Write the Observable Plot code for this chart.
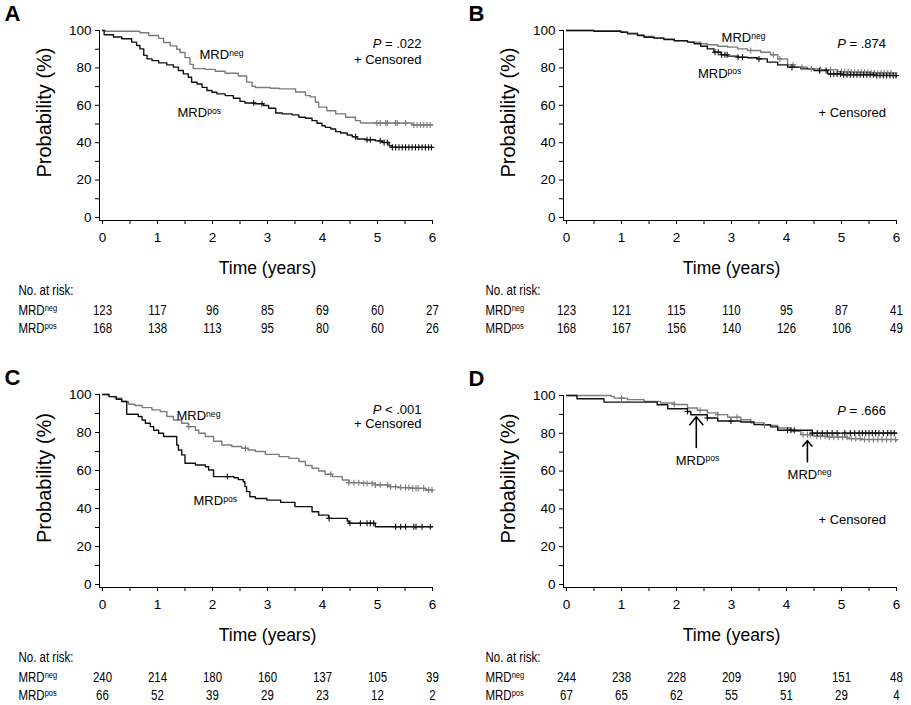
<!DOCTYPE html>
<html>
<head>
<meta charset="utf-8">
<script src="https://cdn.jsdelivr.net/npm/d3@7"></script>
<script src="https://cdn.jsdelivr.net/npm/@observablehq/plot@0.6"></script>
<style>
  body { margin: 0; background: #fff; }
  #fig { position: relative; width: 911px; height: 705px; background: #fff; }
  .panel { position: absolute; }
  .panel svg { overflow: visible; }
</style>
</head>
<body>
<div id="fig"></div>
<script>
// ---------- axis ticks ----------
const xTicks = [0, 0.5, 1, 1.5, 2, 2.5, 3, 3.5, 4, 4.5, 5, 5.5, 6];
const xLabels = [0, 1, 2, 3, 4, 5, 6];
const yTicks = [0, 10, 20, 30, 40, 50, 60, 70, 80, 90, 100];
const yLabels = [0, 20, 40, 60, 80, 100];
const riskTimes = [0, 1, 2, 3, 4, 5, 6];

// ---------- Panel A ----------
const aNegT = [0, 0.05, 0.68, 0.84, 1.02, 1.11, 1.23, 1.35, 1.41, 1.50, 1.59, 1.65, 1.87, 2.05, 2.23, 2.47, 2.62, 2.72, 2.78, 3.05, 3.21, 3.51, 3.69, 3.78, 3.87, 3.93, 4.08, 4.24, 4.42, 4.60, 4.69, 5.63, 6.0];
const aNegS = [100, 99.6, 98.8, 97.3, 95.8, 93.6, 91.8, 90, 88.2, 85.5, 81.9, 79.6, 79.2, 78.2, 77.1, 75.7, 72.4, 70.2, 69.5, 69.1, 68.8, 67.1, 65.2, 64.5, 61.6, 59, 57.1, 55.4, 53.6, 51.8, 50.5, 49.5, 49.5];
const aNegC = [4.99, 5.05, 5.15, 5.18, 5.33, 5.36, 5.51, 5.66, 5.72, 5.78, 5.84, 5.90, 5.96];
const aPosT = [0, 0.03, 0.2, 0.35, 0.53, 0.62, 0.68, 0.75, 0.81, 0.90, 1.02, 1.17, 1.29, 1.38, 1.47, 1.56, 1.62, 1.72, 1.81, 1.90, 1.99, 2.08, 2.23, 2.38, 2.50, 2.59, 2.78, 2.93, 3.02, 3.15, 3.27, 3.45, 3.57, 3.69, 3.81, 3.90, 3.99, 4.05, 4.15, 4.24, 4.33, 4.45, 4.54, 4.63, 4.78, 4.96, 5.09, 5.21, 5.27, 6.0];
const aPosS = [100, 97.7, 96.5, 95.6, 93.8, 92, 90.2, 86.7, 84.8, 83.9, 82.7, 81.6, 80.4, 78.6, 76.8, 75, 72.3, 71.4, 69.6, 67.9, 67, 66.1, 65.2, 63.8, 62.1, 61.2, 60.8, 59.9, 58.4, 55.9, 55.4, 54.9, 53.6, 53.1, 51.8, 50.4, 49.1, 48.2, 47.3, 45.9, 45.2, 44.1, 43.2, 42, 41.6, 41, 40.1, 38.4, 37.5, 37.5];
const aPosC = [2.75, 2.90, 4.60, 4.81, 4.87, 5.05, 5.12, 5.18, 5.27, 5.33, 5.39, 5.45, 5.51, 5.57, 5.63, 5.69, 5.75, 5.81, 5.87, 5.93, 5.98];
const aNegRisk = [123, 117, 96, 85, 69, 60, 27];
const aPosRisk = [168, 138, 113, 95, 80, 60, 26];

// ---------- Panel B ----------
const bNegT = [0, 0.50, 0.99, 1.11, 1.29, 1.41, 1.59, 1.77, 1.96, 2.20, 2.44, 2.56, 2.75, 2.93, 3.11, 3.29, 3.53, 3.71, 3.84, 4.02, 4.14, 4.38, 4.62, 4.93, 5.17, 5.53, 6.0];
const bNegS = [100, 99.7, 99.2, 98.5, 97.6, 96.8, 96, 95.3, 94.6, 93.8, 92.9, 92.4, 91.6, 91.1, 90.2, 89.3, 88.4, 87, 84.8, 81.6, 80.4, 79.5, 79.1, 78, 77.7, 77.3, 76.8];
const bNegC = [3.35, 3.76, 3.88, 4.12, 4.28, 4.45, 4.62, 4.80, 5.00, 5.06, 5.12, 5.18, 5.24, 5.30, 5.36, 5.42, 5.48, 5.54, 5.60, 5.66, 5.72, 5.78, 5.84, 5.90];
const bPosT = [0, 0.50, 0.99, 1.11, 1.29, 1.41, 1.59, 1.77, 1.96, 2.20, 2.32, 2.44, 2.56, 2.68, 2.81, 2.93, 3.11, 3.29, 3.47, 3.65, 3.84, 4.02, 4.26, 4.50, 4.75, 4.99, 5.59, 6.0];
const bPosS = [100, 99.6, 99.1, 98.2, 97.3, 96.4, 95.9, 95.2, 94.5, 93.8, 92.9, 91.6, 90.2, 88.4, 87, 86.3, 85.7, 85.4, 84.8, 83.1, 81.6, 80.4, 79.5, 78.6, 76.8, 76.3, 75.9, 75.4];
const bPosC = [2.70, 2.76, 2.82, 2.88, 2.92, 3.12, 3.20, 3.50, 4.10, 4.60, 4.72, 4.80, 4.86, 4.92, 4.98, 5.04, 5.10, 5.16, 5.22, 5.28, 5.34, 5.40, 5.46, 5.52, 5.58, 5.64, 5.70, 5.76, 5.82, 5.88, 5.94, 5.99];
const bNegRisk = [123, 121, 115, 110, 95, 87, 41];
const bPosRisk = [168, 167, 156, 140, 126, 106, 49];

// ---------- Panel C ----------
const cNegT = [0, 0.11, 0.23, 0.35, 0.47, 0.59, 0.72, 0.90, 1.05, 1.17, 1.29, 1.44, 1.56, 1.69, 1.75, 1.87, 2.02, 2.17, 2.35, 2.53, 2.65, 2.78, 2.96, 3.21, 3.39, 3.57, 3.69, 3.81, 3.93, 4.05, 4.18, 4.36, 4.48, 4.72, 4.96, 5.21, 5.39, 5.63, 5.87, 6.0];
const cNegS = [100, 98.9, 98, 96.3, 94.9, 94.2, 93.1, 91.9, 91, 88.4, 86.6, 84.9, 83.1, 81.2, 79.6, 77.9, 75.4, 73.4, 72.6, 71.7, 70.8, 70, 68.5, 67.3, 66.4, 64.7, 62.6, 61.2, 59.7, 58, 56.8, 55, 53.6, 53.2, 52.4, 51.5, 51, 50.6, 49.7, 49.2];
const cNegC = [1.57, 2.60, 4.15, 4.48, 4.57, 4.66, 4.75, 4.81, 4.90, 4.96, 5.05, 5.18, 5.24, 5.33, 5.42, 5.51, 5.57, 5.64, 5.70, 5.74, 5.84, 5.93, 5.99];
const cPosT = [0, 0.12, 0.25, 0.35, 0.44, 0.65, 0.72, 0.78, 0.87, 0.93, 1.02, 1.11, 1.35, 1.38, 1.44, 1.50, 1.69, 1.87, 1.93, 2.02, 2.39, 2.47, 2.56, 2.59, 2.62, 2.68, 2.78, 2.99, 3.24, 3.50, 3.81, 3.93, 4.11, 4.45, 4.48, 4.96, 6.0];
const cPosS = [100, 98.9, 97.5, 96.3, 89.6, 88.4, 86.6, 84.9, 83.1, 81.2, 79.6, 77.9, 73.4, 70.8, 68.2, 63.8, 62.9, 62, 60.3, 56.8, 56.2, 55.2, 54.1, 51.5, 48.9, 46.2, 45.3, 44.4, 43.2, 41, 38.3, 36.5, 34.8, 33.4, 32.2, 30.4, 30.4];
const cPosC = [2.27, 4.12, 4.50, 4.69, 4.81, 4.87, 4.93, 5.33, 5.42, 5.51, 5.66, 5.70, 5.81, 5.96];
const cNegRisk = [240, 214, 180, 160, 137, 105, 39];
const cPosRisk = [66, 52, 39, 29, 23, 12, 2];

// ---------- Panel D ----------
const dNegT = [0, 0.81, 0.87, 1.11, 1.41, 1.71, 1.96, 2.20, 2.38, 2.56, 2.75, 2.93, 3.17, 3.35, 3.59, 3.84, 4.08, 4.26, 4.50, 4.75, 5.11, 5.35, 6.0];
const dNegS = [100, 99.5, 98.6, 97.8, 96.9, 96, 95.2, 93.4, 92.2, 90.8, 89.9, 88.5, 87.2, 85.5, 84.2, 82.8, 81.1, 79.3, 78.4, 77.9, 77.2, 76.7, 76.1];
const dNegC = [1.00, 1.96, 2.43, 2.75, 3.10, 3.60, 4.30, 4.38, 4.44, 4.55, 4.62, 4.70, 4.78, 4.86, 4.94, 5.02, 5.10, 5.18, 5.26, 5.34, 5.42, 5.50, 5.58, 5.66, 5.74, 5.82, 5.90, 5.98];
const dPosT = [0, 0.19, 0.68, 1.65, 1.84, 2.20, 2.26, 2.56, 2.75, 3.17, 3.41, 3.71, 3.84, 4.47, 6.0];
const dPosS = [100, 98.3, 96.5, 95.1, 93, 91.5, 89.8, 88.1, 86.5, 86, 84.6, 83.4, 81.6, 80.1, 80.1];
const dPosC = [2.20, 2.56, 2.99, 4.02, 4.08, 4.14, 4.47, 4.56, 4.65, 4.74, 4.83, 4.92, 5.06, 5.16, 5.24, 5.32, 5.38, 5.44, 5.50, 5.56, 5.62, 5.68, 5.76, 5.84, 5.90, 5.96];
const dNegRisk = [244, 238, 228, 209, 190, 151, 48];
const dPosRisk = [67, 65, 62, 55, 51, 29, 4];
const dArrowX = [2.36, 4.38];
const dArrowFrom = [72.5, 65];
const dArrowTo = [88.7, 76.1];

// ---------- styling ----------
const FONT = '"Liberation Sans", Arial, Helvetica, sans-serif';
const GRAY = "#7b7b7b";
const BLACK = "#111";
const NARROW_SCALE = 0.82;

function stepValue(T, S, t) {
  const i = Math.max(0, d3.bisectRight(T, t) - 1);
  return S[i];
}
function curveData(T, S) { return T.map((t, i) => ({t, s: S[i]})); }
function censorData(T, S, C) { return C.map(t => ({t, s: stepValue(T, S, t)})); }

const panels = [
  {letter: "A", left: 0, top: 0, width: 455, height: 345, ml: 99, mr: 23, mt: 30, mb: 125, lblDx: -81,
   negT: aNegT, negS: aNegS, negC: aNegC, posT: aPosT, posS: aPosS, posC: aPosC, negRisk: aNegRisk, posRisk: aPosRisk,
   labels: [
     {x: 1.764, y: 84.5, text: "MRD^neg", anchor: "start"},
     {x: 1.364, y: 53.6, text: "MRD^pos", anchor: "start"},
     {x: 5.80, y: 90.4, text: "P = .022", anchor: "end"},
     {x: 5.80, y: 82.2, text: "+ Censored", anchor: "end"}
   ]},
  {letter: "B", left: 455, top: 0, width: 456, height: 345, ml: 108, mr: 15, mt: 30, mb: 125, lblDx: -78,
   negT: bNegT, negS: bNegS, negC: bNegC, posT: bPosT, posS: bPosS, posC: bPosC, negRisk: bNegRisk, posRisk: bPosRisk,
   labels: [
     {x: 2.82, y: 93.6, text: "MRD^neg", anchor: "start"},
     {x: 2.39, y: 74.7, text: "MRD^pos", anchor: "start"},
     {x: 5.81, y: 90.4, text: "P = .874", anchor: "end"},
     {x: 5.81, y: 53.5, text: "+ Censored", anchor: "end"}
   ]},
  {letter: "C", left: 0, top: 364, width: 455, height: 341, ml: 99, mr: 23, mt: 30, mb: 118, lblDx: -81,
   negT: cNegT, negS: cNegS, negC: cNegC, posT: cPosT, posS: cPosS, posC: cPosC, negRisk: cNegRisk, posRisk: cPosRisk,
   labels: [
     {x: 1.345, y: 86.5, text: "MRD^neg", anchor: "start"},
     {x: 1.655, y: 41.6, text: "MRD^pos", anchor: "start"},
     {x: 5.80, y: 89.6, text: "P < .001", anchor: "end"},
     {x: 5.80, y: 82.2, text: "+ Censored", anchor: "end"}
   ]},
  {letter: "D", left: 455, top: 364, width: 456, height: 341, ml: 108, mr: 15, mt: 31, mb: 118, lblDx: -78,
   negT: dNegT, negS: dNegS, negC: dNegC, posT: dPosT, posS: dPosS, posC: dPosC, negRisk: dNegRisk, posRisk: dPosRisk,
   arrows: true,
   labels: [
     {x: 1.987, y: 63.4, text: "MRD^pos", anchor: "start"},
     {x: 4.02, y: 55.8, text: "MRD^neg", anchor: "start"},
     {x: 5.81, y: 89.8, text: "P = .666", anchor: "end"},
     {x: 5.81, y: 32.2, text: "+ Censored", anchor: "end"}
   ]}
];

const fig = document.getElementById("fig");
const NS = "http://www.w3.org/2000/svg";
const TABLE_STROKE = "#010101"; // marker colour for table texts (visually black)

for (const p of panels) {
  const startLbl = p.labels.filter(d => d.anchor === "start");
  const endLbl = p.labels.filter(d => d.anchor === "end");
  const tbl = {fontSize: 14, fill: TABLE_STROKE, lineAnchor: "middle"};
  const marks = [
    Plot.ruleY([0], {dy: 3, stroke: "#000", strokeWidth: 1}),
    Plot.ruleX([0], {dx: -3, stroke: "#000", strokeWidth: 1}),
    Plot.axisX({ticks: xTicks, tickFormat: d => xLabels.includes(d) ? String(d) : "", tickSize: 4, tickPadding: 7.5, fontSize: 13.5, label: null, stroke: "#000"}),
    Plot.axisY({ticks: yTicks, tickFormat: d => yLabels.includes(d) ? String(d) : "", tickSize: 4, tickPadding: 4, fontSize: 13.5, label: null, stroke: "#000"}),
    Plot.line(curveData(p.negT, p.negS), {x: "t", y: "s", curve: "step-after", stroke: GRAY, strokeWidth: 1.4}),
    Plot.line(curveData(p.posT, p.posS), {x: "t", y: "s", curve: "step-after", stroke: BLACK, strokeWidth: 1.4}),
    Plot.dot(censorData(p.negT, p.negS, p.negC), {x: "t", y: "s", symbol: "plus", r: 2.1, stroke: GRAY, strokeWidth: 1.1}),
    Plot.dot(censorData(p.posT, p.posS, p.posC), {x: "t", y: "s", symbol: "plus", r: 2.1, stroke: BLACK, strokeWidth: 1.1}),
    Plot.text(startLbl, {x: "x", y: "y", text: "text", textAnchor: "start", lineAnchor: "bottom", fontSize: 13, fill: "#000"}),
    Plot.text(endLbl, {x: "x", y: "y", text: "text", textAnchor: "end", lineAnchor: "bottom", fontSize: 13, fill: "#000"}),
    // axis titles
    Plot.text(["Probability (%)"], {frameAnchor: "left", rotate: -90, dx: -55, dy: -13, fontSize: 20, fill: "#000", textAnchor: "middle", lineAnchor: "middle"}),
    Plot.text(["Time (years)"], {frameAnchor: "bottom", dx: 1.5, dy: 47.5, fontSize: 17.5, fill: "#000", textAnchor: "middle", lineAnchor: "middle"}),
    // panel letter
    Plot.text([p.letter], {frameAnchor: "top-left", dx: -95, dy: -9.5, fontSize: 22, fontWeight: "bold", textAnchor: "start", lineAnchor: "bottom", fill: "#000"}),
    // at-risk table
    Plot.text(["No. at risk:"], {...tbl, frameAnchor: "bottom-left", dx: p.lblDx, dy: 70, textAnchor: "start"}),
    Plot.text(["MRD^neg"], {...tbl, frameAnchor: "bottom-left", dx: p.lblDx, dy: 90, textAnchor: "start"}),
    Plot.text(["MRD^pos"], {...tbl, frameAnchor: "bottom-left", dx: p.lblDx, dy: 108, textAnchor: "start"}),
    Plot.text(riskTimes, {...tbl, x: d => d, text: (d, i) => String(p.negRisk[i]), frameAnchor: "bottom", dy: 90, textAnchor: "middle"}),
    Plot.text(riskTimes, {...tbl, x: d => d, text: (d, i) => String(p.posRisk[i]), frameAnchor: "bottom", dy: 108, textAnchor: "middle"})
  ];
  if (p.arrows) {
    marks.push(Plot.arrow(dArrowX, {x1: d => d, x2: d => d, y1: (d, i) => dArrowFrom[i], y2: (d, i) => dArrowTo[i], stroke: "#000", strokeWidth: 1.6, headLength: 10, headAngle: 80}));
  }
  const svg = Plot.plot({
    width: p.width, height: p.height,
    marginLeft: p.ml, marginRight: p.mr, marginTop: p.mt, marginBottom: p.mb,
    x: {domain: [0, 6], insetLeft: 3},
    y: {domain: [0, 100], insetBottom: 3},
    style: {fontFamily: FONT, fontSize: "13px", color: "#000", background: "#fff"},
    marks
  });
  // superscripts and italic P
  svg.querySelectorAll("text").forEach(el => {
    const s = el.textContent;
    const g = el.closest("g");
    const isTable = g && g.getAttribute("fill") === TABLE_STROKE;
    if (s.includes("^")) {
      const [base, sup] = s.split("^");
      const fs = isTable ? 14 : 13;
      el.textContent = "";
      const t1 = document.createElementNS(NS, "tspan"); t1.textContent = base;
      const t2 = document.createElementNS(NS, "tspan"); t2.textContent = sup;
      t2.setAttribute("dy", "-0.42em"); t2.setAttribute("font-size", (fs * 0.66).toFixed(1));
      el.append(t1, t2);
    } else if (/^P [=<]/.test(s)) {
      el.textContent = "";
      const t1 = document.createElementNS(NS, "tspan"); t1.textContent = "P"; t1.setAttribute("font-style", "italic");
      const t2 = document.createElementNS(NS, "tspan"); t2.textContent = s.slice(1);
      el.append(t1, t2);
    }
    // condensed look for the at-risk table
    if (isTable) {
      const tr = el.getAttribute("transform");
      if (tr) {
        el.setAttribute("transform", tr + ` scale(${NARROW_SCALE},1)`);
      } else {
        const x = +(el.getAttribute("x") || 0), y = +(el.getAttribute("y") || 0);
        el.removeAttribute("x"); el.removeAttribute("y");
        el.setAttribute("transform", `translate(${x},${y}) scale(${NARROW_SCALE},1)`);
      }
    }
  });
  const div = document.createElement("div");
  div.className = "panel";
  div.style.left = p.left + "px";
  div.style.top = p.top + "px";
  div.appendChild(svg);
  fig.appendChild(div);
}
</script>
</body>
</html>
